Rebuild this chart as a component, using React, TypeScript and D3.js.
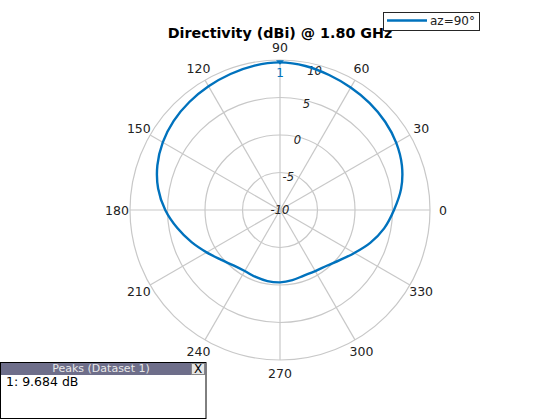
import React from "react";
import * as d3 from "d3";

const angles = [0,10,20,30,40,50,60,70,80,90,100,110,120,130,140,150,160,170,180,190,200,210,220,230,240,250,260,270,280,290,300,310,320,330,340,350];
const directivity = [5.2,6.4,7.3,7.9,8.3,8.6,8.85,9.15,9.5,9.684,9.55,9.3,9.05,8.8,8.5,8.05,7.4,6.5,5.3,3.9,2.55,1.3,0.3,-0.35,-0.6,-0.5,-0.38,-0.35,-0.5,-0.7,-0.6,-0.3,0.4,1.45,2.8,4.1];
const angleTicks = [0,30,60,90,120,150,180,210,240,270,300,330];
const radialTicks = [-10,-5,0,5,10];
const peakAngle = 90;
const peakValue = 9.684;
const titleText = "Directivity (dBi) @ 1.80 GHz";
const legendLabel = "az=90°";
const tableTitle = "Peaks (Dataset 1)";
const tableRows = ["1: 9.684 dB"];

const W = 560, H = 420;
const cx = 280, cy = 210, R = 150;
const blue = "#0072BD";
const grid = "#c8c8c8";
const font = "DejaVu Sans, sans-serif";

export default function App() {
  const r = d3.scaleLinear().domain([-10, 10]).range([0, R]);
  const toRad = (deg: number) => (deg * Math.PI) / 180;
  const pt = (deg: number, rad: number): [number, number] => [cx + rad * Math.cos(toRad(deg)), cy - rad * Math.sin(toRad(deg))];

  const data = angles.map((a, i) => ({ a, v: directivity[i] }));
  const line = d3
    .lineRadial<{ a: number; v: number }>()
    .angle((d) => Math.PI / 2 - toRad(d.a))
    .radius((d) => r(d.v))
    .curve(d3.curveCatmullRomClosed.alpha(0.5));
  const path = line(data) || "";

  const [px, py] = pt(peakAngle, r(peakValue));

  return (
    <svg width={W} height={H} style={{ position: "absolute", left: 0, top: 0, background: "#fff" }} fontFamily={font}>
      <rect x={0} y={0} width={W} height={H} fill="#fff" />
      {/* rings */}
      {radialTicks.filter((t) => r(t) > 0).map((t) => (
        <circle key={t} cx={cx} cy={cy} r={r(t)} fill="none" stroke={grid} strokeWidth={1.2} />
      ))}
      {/* spokes */}
      {angleTicks.map((a) => {
        const [x2, y2] = pt(a, R);
        return <line key={a} x1={cx} y1={cy} x2={x2} y2={y2} stroke={grid} strokeWidth={1.2} />;
      })}
      {/* angle labels */}
      {angleTicks.map((a) => {
        const [x, y] = pt(a, R + 13);
        return (
          <text key={a} x={x} y={y} textAnchor="middle" dominantBaseline="central" fontSize={12.5} fill="#222">
            {a}
          </text>
        );
      })}
      {/* radial labels */}
      {radialTicks.map((t) => {
        const [x, y] = pt(76, Math.max(0, Math.min(r(t) - 3, R - 7)));
        return (
          <text key={t} x={x} y={y} textAnchor="middle" dominantBaseline="central" fontSize={11.5} fontStyle="italic" fill="#222">
            {t}
          </text>
        );
      })}
      {/* pattern */}
      <g transform={`translate(${cx},${cy})`}>
        <path d={path} fill="none" stroke={blue} strokeWidth={2.4} />
      </g>
      {/* peak marker */}
      <path d={`M${px - 4},${py - 2} L${px + 4},${py - 2} L${px},${py + 2.5} Z`} fill={blue} />
      <text x={px} y={py + 15} textAnchor="middle" fontSize={12} fill={blue}>1</text>
      {/* title */}
      <text x={280} y={38} textAnchor="middle" fontSize={14.3} fontWeight="bold" fill="#000">{titleText}</text>
      {/* legend */}
      <rect x={383.5} y={12.5} width={96} height={18} fill="#fff" stroke="#262626" strokeWidth={1} />
      <line x1={387} y1={20.5} x2={427} y2={20.5} stroke={blue} strokeWidth={2.5} />
      <text x={430} y={25} fontSize={12} fill="#222">{legendLabel}</text>
      {/* peaks table */}
      <rect x={0.5} y={362.5} width={205.5} height={56} fill="#fff" stroke="#000" strokeWidth={1} />
      <rect x={1} y={363} width={204.5} height={12} fill="#6e6e8a" />
      <text x={101} y={372} textAnchor="middle" fontSize={11} fill="#e8e8e8">{tableTitle}</text>
      <rect x={191.5} y={363.5} width={13} height={11} fill="#e6e6e6" stroke="#888" strokeWidth={1} />
      <text x={198} y={373} textAnchor="middle" fontSize={12} fill="#000">X</text>
      {tableRows.map((row, i) => (
        <text key={i} x={6} y={386 + i * 14} fontSize={12.5} fill="#000">{row}</text>
      ))}
    </svg>
  );
}
